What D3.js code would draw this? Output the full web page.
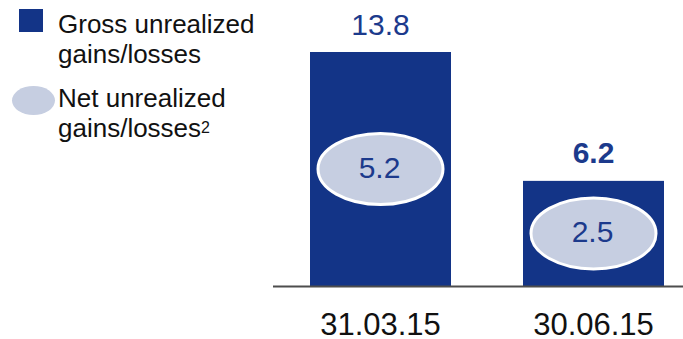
<!DOCTYPE html>
<html>
<head>
<meta charset="utf-8">
<script src="https://cdn.jsdelivr.net/npm/d3@7/dist/d3.min.js"></script>
<style>
  html, body { margin: 0; padding: 0; background: #ffffff; }
  svg { display: block; font-family: "Liberation Sans", Arial, sans-serif; }
</style>
</head>
<body>
<svg id="chart" width="683" height="339"></svg>
<script>
// Reporting dates
const dates = ["31.03.15", "30.06.15"];
// Gross unrealized gains/losses
const grossValues = [13.8, 6.2];
// Net unrealized gains/losses
const netValues = [5.2, 2.5];
// Whether the gross label is emphasised
const grossBold = [false, true];

const barBlue = "#133487";
const textBlue = "#1c3a8c";
const netFill = "#c6cee1";
const axisGrey = "#4d4d4d";

const svg = d3.select("#chart");

const x = d3.scaleBand()
  .domain(dates)
  .range([310, 664])
  .paddingInner(72 / 213)
  .paddingOuter(0);

const y = d3.scaleLinear()
  .domain([0, 13.8])
  .range([286, 52]);

const fmt = d3.format(".1f");

// Gross bars
svg.append("g").selectAll("rect")
  .data(dates)
  .join("rect")
  .attr("x", d => x(d))
  .attr("y", (d, i) => y(grossValues[i]))
  .attr("width", x.bandwidth())
  .attr("height", (d, i) => y(0) - y(grossValues[i]))
  .attr("fill", barBlue);

// Gross value labels above the bars
svg.append("g").selectAll("text")
  .data(dates)
  .join("text")
  .attr("x", d => x(d) + x.bandwidth() / 2)
  .attr("y", (d, i) => y(grossValues[i]) - 17.5)
  .attr("text-anchor", "middle")
  .attr("font-size", 30)
  .attr("font-weight", (d, i) => grossBold[i] ? "bold" : "normal")
  .attr("fill", textBlue)
  .text((d, i) => fmt(grossValues[i]));

// Net value ellipses centred inside each bar
const net = svg.append("g").selectAll("g")
  .data(dates)
  .join("g")
  .attr("transform", (d, i) =>
    `translate(${x(d) + x.bandwidth() / 2},${(y(grossValues[i]) + y(0)) / 2})`);

net.append("ellipse")
  .attr("rx", 62.5)
  .attr("ry", 35.5)
  .attr("fill", netFill)
  .attr("stroke", "#ffffff")
  .attr("stroke-width", 3);

net.append("text")
  .attr("y", 9)
  .attr("dx", -1)
  .attr("text-anchor", "middle")
  .attr("font-size", 30)
  .attr("fill", textBlue)
  .text((d, i) => fmt(netValues[i]));

// Baseline
svg.append("line")
  .attr("x1", 273)
  .attr("x2", 683)
  .attr("y1", y(0) + 0.5)
  .attr("y2", y(0) + 0.5)
  .attr("stroke", axisGrey)
  .attr("stroke-width", 2);

// Date labels
svg.append("g").selectAll("text")
  .data(dates)
  .join("text")
  .attr("x", d => x(d) + x.bandwidth() / 2)
  .attr("y", 335)
  .attr("text-anchor", "middle")
  .attr("font-size", 31)
  .attr("fill", "#111111")
  .text(d => d);

// Legend
const legend = svg.append("g");
legend.append("rect")
  .attr("x", 19).attr("y", 9)
  .attr("width", 24).attr("height", 23)
  .attr("fill", barBlue);

const legendText = (lines, y0) => {
  const t = legend.append("text")
    .attr("font-size", 26)
    .attr("fill", "#111111");
  lines.forEach((l, i) => {
    const ts = t.append("tspan").attr("x", 58).attr("y", y0 + i * 30);
    ts.text(l.text);
    if (l.sup) {
      t.append("tspan")
        .attr("dy", -4)
        .attr("font-size", 16)
        .text(l.sup);
    }
  });
};
legendText([{ text: "Gross unrealized" }, { text: "gains/losses" }], 33.3);

legend.append("ellipse")
  .attr("cx", 33.5).attr("cy", 100.5)
  .attr("rx", 21.5).attr("ry", 14.5)
  .attr("fill", netFill);
legendText([{ text: "Net unrealized" }, { text: "gains/losses", sup: "2" }], 107.3);
</script>
</body>
</html>
